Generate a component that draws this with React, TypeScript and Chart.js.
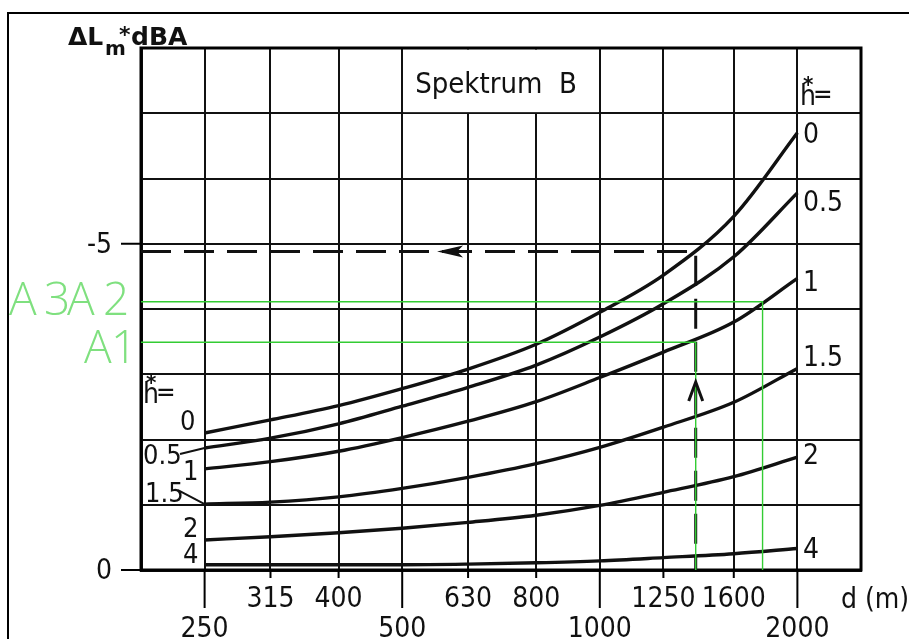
import React, { useEffect, useRef } from "react";
import { Chart, registerables } from "chart.js";

Chart.register(...registerables);

// ---- data ----
const distances = [250, 315, 400, 500, 630, 800, 1000, 1250, 1600, 2000];
const h0 = [-2.1, -2.3, -2.52, -2.78, -3.08, -3.46, -3.95, -4.52, -5.42, -6.7];
const h05 = [-1.87, -2.02, -2.24, -2.51, -2.8, -3.14, -3.57, -4.08, -4.8, -5.78];
const h1 = [-1.55, -1.66, -1.82, -2.03, -2.28, -2.58, -2.95, -3.34, -3.8, -4.47];
const h15 = [-1.01, -1.04, -1.12, -1.25, -1.42, -1.63, -1.88, -2.19, -2.57, -3.09];
const h2 = [-0.46, -0.51, -0.57, -0.64, -0.73, -0.84, -0.99, -1.19, -1.43, -1.73];
const h4 = [-0.08, -0.08, -0.08, -0.08, -0.09, -0.11, -0.14, -0.19, -0.25, -0.33];
const curveLabels = ["0", "0.5", "1", "1.5", "2", "4"];

const gridDistances = [200, 250, 315, 400, 500, 630, 800, 1000, 1250, 1600, 2000, 2500];
const xTicksUpper = [315, 400, 630, 800, 1250, 1600];
const xTicksLower = [250, 500, 1000, 2000];
const yTickLabels = [-5, 0];

const exampleD = [200, 1400, 1400];
const exampleL = [-4.88, -4.88, 0];
const a1D = [200, 1400, 1400];
const a1L = [-3.49, -3.49, 0];
const a2D = [200, 1770, 1770];
const a2L = [-4.11, -4.11, 0];
const arrowLeftAt = { d: 565, l: -4.88 };
const arrowUpAt = { d: 1400, l: -2.88 };

const FONT = '"Liberation Sans Narrow", "DejaVu Sans Condensed", "Roboto Condensed", "Liberation Sans", sans-serif';
const TITLE_FONT = '"DejaVu Sans", "Liberation Sans", sans-serif';
const GREEN_LINE = "#33cc33";
const GREEN_TEXT = "#7fe07f";

const pts = (xs: number[], ys: number[]) => xs.map((x, i) => ({ x, y: ys[i] }));

const decor = {
  id: "decor",
  beforeDraw(chart: any) {
    const ctx = chart.ctx;
    ctx.save();
    ctx.strokeStyle = "#000";
    ctx.lineWidth = 2;
    ctx.beginPath();
    ctx.moveTo(8, 700);
    ctx.lineTo(8, 13);
    ctx.lineTo(950, 13);
    ctx.stroke();
    ctx.restore();
  },
  beforeDatasetsDraw(chart: any) {
    const ctx = chart.ctx;
    const xs = chart.scales.x;
    const ys = chart.scales.y;
    const a = chart.chartArea;
    ctx.save();
    // merged title cell
    const x1 = xs.getPixelForValue(500);
    const x2 = xs.getPixelForValue(1000);
    const yT = ys.getPixelForValue(-8);
    const yB = ys.getPixelForValue(-7);
    ctx.fillStyle = "#fff";
    ctx.fillRect(x1 + 1.2, yT + 1.5, x2 - x1 - 2.4, yB - yT - 2.6);
    // plot frame
    ctx.strokeStyle = "#000";
    ctx.lineWidth = 3;
    ctx.strokeRect(a.left, a.top, a.right - a.left, a.bottom - a.top);
    // x ticks
    ctx.lineWidth = 2;
    ctx.beginPath();
    xTicksUpper.forEach((v) => {
      const px = xs.getPixelForValue(v);
      ctx.moveTo(px, a.bottom);
      ctx.lineTo(px, a.bottom + 8);
    });
    xTicksLower.forEach((v) => {
      const px = xs.getPixelForValue(v);
      ctx.moveTo(px, a.bottom);
      ctx.lineTo(px, a.bottom + 38);
    });
    yTickLabels.forEach((v) => {
      const py = ys.getPixelForValue(v);
      ctx.moveTo(a.left - 20, py);
      ctx.lineTo(a.left, py);
    });
    ctx.stroke();
    ctx.restore();
  },
  afterDatasetsDraw(chart: any) {
    const ctx = chart.ctx;
    const xs = chart.scales.x;
    const ys = chart.scales.y;
    const a = chart.chartArea;
    ctx.save();
    ctx.fillStyle = "#111";
    ctx.strokeStyle = "#111";

    // arrows
    const lx = xs.getPixelForValue(arrowLeftAt.d);
    const ly = ys.getPixelForValue(arrowLeftAt.l);
    ctx.beginPath();
    ctx.moveTo(lx + 26, ly - 6);
    ctx.lineTo(lx, ly);
    ctx.lineTo(lx + 26, ly + 6);
    ctx.lineTo(lx + 20, ly);
    ctx.closePath();
    ctx.fill();
    const ux = xs.getPixelForValue(arrowUpAt.d);
    const uy = ys.getPixelForValue(arrowUpAt.l);
    ctx.lineWidth = 3;
    ctx.beginPath();
    ctx.moveTo(ux - 7, uy + 19);
    ctx.lineTo(ux, uy);
    ctx.lineTo(ux + 7, uy + 19);
    ctx.stroke();

    // y tick labels
    ctx.font = `28px ${FONT}`;
    ctx.textAlign = "right";
    ctx.textBaseline = "middle";
    yTickLabels.forEach((v) => {
      ctx.fillText(v === 0 ? "0" : String(v), a.left - 29, ys.getPixelForValue(v) + 2);
    });

    // x tick labels
    ctx.textAlign = "center";
    ctx.textBaseline = "alphabetic";
    xTicksUpper.forEach((v) => ctx.fillText(String(v), xs.getPixelForValue(v), 607));
    xTicksLower.forEach((v) => ctx.fillText(String(v), xs.getPixelForValue(v), 637));
    ctx.textAlign = "left";
    ctx.fillText("d (m)", 841, 608);

    // right-hand curve labels
    const ends = [h0, h05, h1, h15, h2, h4].map((s) => ys.getPixelForValue(s[s.length - 1]));
    const rOff = [3, 11, 5, -10, 0, 2];
    ctx.textBaseline = "middle";
    curveLabels.forEach((t, i) => ctx.fillText(t, 803, ends[i] + rOff[i]));

    // left-hand curve labels
    const starts = [h0, h05, h1, h15, h2, h4].map((s) => ys.getPixelForValue(s[0]));
    const lPos = [
      { x: 180, dy: -10 },
      { x: 143, dy: 9 },
      { x: 183, dy: 4 },
      { x: 145, dy: -9 },
      { x: 183, dy: -10 },
      { x: 183, dy: -9 },
    ];
    ctx.font = `27px ${FONT}`;
    curveLabels.forEach((t, i) => ctx.fillText(t, lPos[i].x, starts[i] + lPos[i].dy));
    // leaders
    ctx.lineWidth = 2;
    ctx.beginPath();
    ctx.moveTo(180, starts[1] + 6);
    ctx.lineTo(xs.getPixelForValue(250), starts[1]);
    ctx.moveTo(178, starts[3] - 14);
    ctx.lineTo(xs.getPixelForValue(250), starts[3]);
    ctx.stroke();

    // h*= labels
    const hstar = (x: number, y: number) => {
      ctx.textBaseline = "alphabetic";
      ctx.font = `28px ${FONT}`;
      ctx.fillText("h", x, y);
      ctx.font = `bold 22px ${FONT}`;
      ctx.fillText("*", x + 3, y - 13);
      ctx.font = `26px ${FONT}`;
      ctx.fillText("=", x + 13, y - 2);
    };
    hstar(800, 105);
    hstar(143, 403);

    // title cell
    ctx.font = `29px ${FONT}`;
    ctx.textAlign = "center";
    ctx.textBaseline = "alphabetic";
    const cx = (xs.getPixelForValue(500) + xs.getPixelForValue(1000)) / 2 - 5;
    ctx.fillText("Spektrum  B", cx, 93);

    // axis title
    ctx.textAlign = "left";
    ctx.font = `bold 25px ${TITLE_FONT}`;
    ctx.fillText("\u0394L", 68, 45);
    ctx.font = `bold 20px ${TITLE_FONT}`;
    ctx.fillText("m", 105, 55);
    ctx.font = `bold 22px ${TITLE_FONT}`;
    ctx.fillText("*", 119, 42);
    ctx.font = `bold 25px ${TITLE_FONT}`;
    ctx.fillText("dBA", 131, 45);

    // green annotations
    ctx.fillStyle = GREEN_TEXT;
    ctx.font = `300 46px "Open Sans", Roboto, sans-serif`;
    ctx.textBaseline = "alphabetic";
    ctx.textAlign = "left";
    const yA2 = ys.getPixelForValue(a2L[0]);
    const yA1 = ys.getPixelForValue(a1L[0]);
    ctx.fillText("A", 9, yA2 + 13);
    ctx.fillText("3", 44, yA2 + 13);
    ctx.fillText("A", 67, yA2 + 13);
    ctx.fillText("2", 103, yA2 + 13);
    ctx.fillText("A", 84, yA1 + 21);
    ctx.fillText("1", 111, yA1 + 21);
    ctx.restore();
  },
};

export default function App() {
  const ref = useRef<HTMLCanvasElement | null>(null);
  useEffect(() => {
    if (!ref.current) return;
    const curve = (data: number[], label: string) => ({
      label,
      data: pts(distances, data),
      borderColor: "#111",
      borderWidth: 3.4,
      pointRadius: 0,
      cubicInterpolationMode: "monotone" as const,
      fill: false,
      order: 2,
    });
    const chart = new Chart(ref.current, {
      type: "line",
      data: {
        datasets: [
          {
            label: "A1",
            data: pts(a1D, a1L),
            borderColor: GREEN_LINE,
            borderWidth: 1.4,
            pointRadius: 0,
            tension: 0,
            order: 0,
          },
          {
            label: "A2",
            data: pts(a2D, a2L),
            borderColor: GREEN_LINE,
            borderWidth: 1.4,
            pointRadius: 0,
            tension: 0,
            order: 0,
          },
          {
            label: "example",
            data: pts(exampleD, exampleL),
            borderColor: "#111",
            borderWidth: 3,
            borderDash: [30, 13],
            pointRadius: 0,
            tension: 0,
            order: 1,
          },
          curve(h0, "h*=0"),
          curve(h05, "h*=0.5"),
          curve(h1, "h*=1"),
          curve(h15, "h*=1.5"),
          curve(h2, "h*=2"),
          curve(h4, "h*=4"),
        ],
      },
      options: {
        animation: false,
        responsive: false,
        events: [],
        layout: { padding: { left: 0, top: 48, right: 48, bottom: 0 } },
        plugins: { legend: { display: false }, tooltip: { enabled: false } },
        scales: {
          x: {
            type: "logarithmic",
            min: 200,
            max: 2500,
            afterBuildTicks: (s: any) => {
              s.ticks = gridDistances.map((v) => ({ value: v }));
            },
            afterFit: (s: any) => {
              s.height = 69;
            },
            ticks: { display: false, autoSkip: false },
            grid: { color: "#111", lineWidth: 2, drawTicks: false },
            border: { display: true, color: "#111", width: 3 },
          },
          y: {
            type: "linear",
            min: -8,
            max: 0,
            reverse: true,
            afterFit: (s: any) => {
              s.width = 141;
            },
            ticks: { display: false, stepSize: 1 },
            grid: { color: "#111", lineWidth: 2, drawTicks: false },
            border: { display: true, color: "#111", width: 3 },
          },
        },
      },
      plugins: [decor],
    });
    return () => chart.destroy();
  }, []);
  return (
    <div style={{ position: "fixed", left: 0, top: 0, width: 909, height: 639, background: "#fff" }}>
      <canvas ref={ref} width={909} height={639} style={{ width: 909, height: 639, display: "block" }} />
    </div>
  );
}
